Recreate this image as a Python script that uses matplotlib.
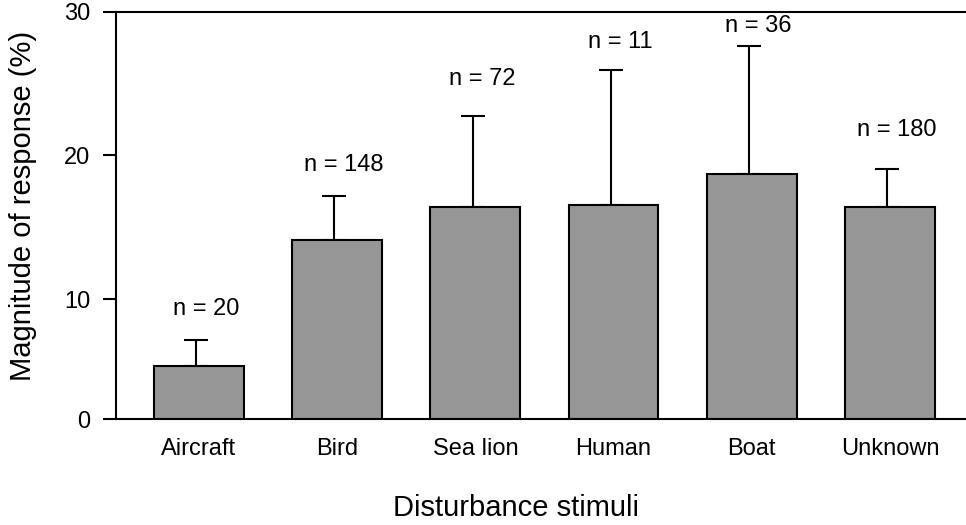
import numpy as np
import matplotlib
matplotlib.use("Agg")
import matplotlib.pyplot as plt

plt.rcParams['font.family'] = ['Liberation Sans', 'DejaVu Sans']

stimuli = ['Aircraft', 'Bird', 'Sea lion', 'Human', 'Boat', 'Unknown']
response = [4.44, 14.13, 16.40, 16.56, 18.70, 16.42]
err_upper = [2.17, 3.04, 6.36, 9.38, 8.91, 2.61]
n_obs = [20, 148, 72, 11, 36, 180]
n_label_y = [9.2, 19.3, 25.3, 27.9, 29.0, 21.8]


# y axis is stretched above 10 (0-10 gets a shorter span than each decade above)
def fwd(v):
    v = np.asarray(v, dtype=float)
    return np.where(v <= 10, v * 12.0, 120.0 + (v - 10) * 14.37)


def inv(u):
    u = np.asarray(u, dtype=float)
    return np.where(u <= 120, u / 12.0, 10 + (u - 120) / 14.37)


fig = plt.figure(figsize=(9.66, 5.25), dpi=100)
ax = fig.add_axes([0.1201, 0.2019, 0.8799, 0.7758])
ax.set_yscale('function', functions=(fwd, inv))

x = np.arange(len(stimuli))
ax.bar(x, response, width=0.65, color='#969696', edgecolor='black', linewidth=1.5, zorder=2)
ax.errorbar(x - 0.02, response, yerr=[np.zeros(len(x)), err_upper], fmt='none',
            ecolor='black', elinewidth=1.5, capsize=8.3, capthick=1.5, zorder=1)

for i, n in enumerate(n_obs):
    ax.text(x[i] + 0.05, n_label_y[i], 'n = %d' % n, ha='center', va='center', fontsize=17)

ax.set_xlim(-0.6, 5.55)
ax.set_ylim(0, 30)
ax.set_yticks([0, 10, 20, 30])
ax.set_xticks(x)
ax.set_xticklabels(stimuli)
ax.tick_params(axis='y', direction='out', length=9.5, width=1.5, labelsize=17, pad=9)
ax.tick_params(axis='x', length=0, labelsize=17, pad=14)

for s in ['left', 'bottom', 'top']:
    ax.spines[s].set_linewidth(1.5)
ax.spines['right'].set_visible(False)

ax.set_ylabel('Magnitude of response (%)', fontsize=21, va='center')
ax.yaxis.set_label_coords(-0.109, 0.522)
ax.set_xlabel('Disturbance stimuli', fontsize=21, va='center')
ax.xaxis.set_label_coords(0.47, -0.2185)

fig.savefig('out.png', dpi=100)
